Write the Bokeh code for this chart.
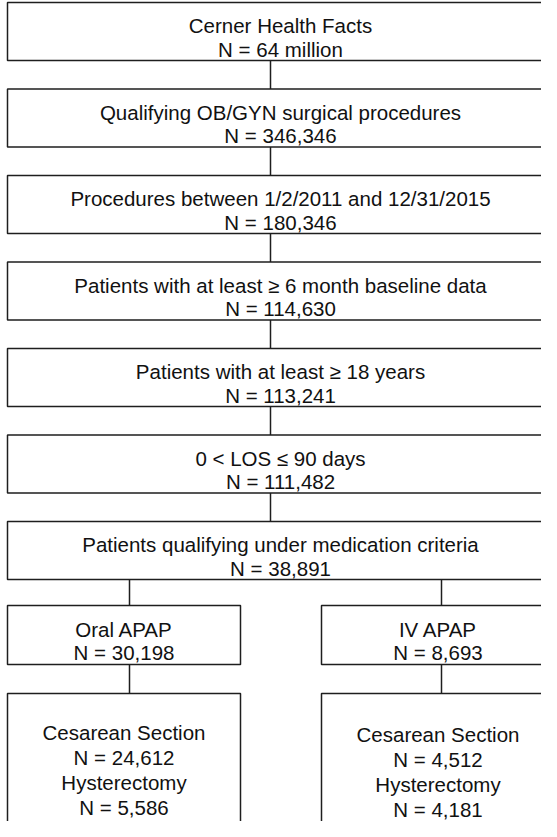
from bokeh.plotting import figure
from bokeh.models import Range1d, ColumnDataSource
from bokeh.core.properties import value
from bokeh.embed import file_html
from bokeh.resources import INLINE

# ---- data ----
steps = [
    "Cerner Health Facts",
    "Qualifying OB/GYN surgical procedures",
    "Procedures between 1/2/2011 and 12/31/2015",
    "Patients with at least \u2265 6 month baseline data",
    "Patients with at least \u2265 18 years",
    "0 < LOS \u2264 90 days",
    "Patients qualifying under medication criteria",
]
step_counts = ["64 million", "346,346", "180,346", "114,630", "113,241", "111,482", "38,891"]
arms = ["Oral APAP", "IV APAP"]
arm_counts = [30198, 8693]
procedures = ["Cesarean Section", "Hysterectomy"]
oral_proc_counts = [24612, 5586]
iv_proc_counts = [4512, 4181]
proc_counts = [oral_proc_counts, iv_proc_counts]

# ---- layout (page pixel coordinates) ----
MAIN_L, MAIN_R = 15, 561
TOP0, PITCH, BOX_H = 10, 86.5, 58
CONN_X = 278
ARM_L = [15, 329]
ARM_W = 233
ARM_TOP, ARM_H = 613, 59
ARM_CONN_X = [137, 449]
PROC_TOP, PROC_BOT = 701, 860

FONT = value("Liberation Sans")
FSIZE = "20.5px"
LINE_C = "#1e1e1e"
TEXT_C = "#111111"

p = figure(width=541, height=821, x_range=Range1d(8, 549), y_range=Range1d(829, 8),
           output_backend="svg", toolbar_location=None, min_border=0,
           x_axis_type=None, y_axis_type=None, outline_line_color=None)
p.grid.visible = False
p.background_fill_color = "white"
p.border_fill_color = "white"

boxes = dict(left=[], right=[], top=[], bottom=[])
segs = dict(x0=[], y0=[], x1=[], y1=[])
texts = dict(x=[], y=[], t=[])

n = len(steps)
for i, (s, c) in enumerate(zip(steps, step_counts)):
    t = TOP0 + i * PITCH
    boxes["left"].append(MAIN_L); boxes["right"].append(MAIN_R)
    boxes["top"].append(t); boxes["bottom"].append(t + BOX_H)
    cx = (MAIN_L + MAIN_R) / 2
    texts["x"] += [cx, cx]
    texts["y"] += [t + 23, t + 46.5]
    texts["t"] += [s, "N = " + c]
    if i < n - 1:
        segs["x0"].append(CONN_X); segs["x1"].append(CONN_X)
        segs["y0"].append(t + BOX_H); segs["y1"].append(t + PITCH)

last_bottom = TOP0 + (n - 1) * PITCH + BOX_H
for j, (a, ac) in enumerate(zip(arms, arm_counts)):
    l = ARM_L[j]; r = l + ARM_W; cx = (l + r) / 2
    boxes["left"] += [l, l]; boxes["right"] += [r, r]
    boxes["top"] += [ARM_TOP, PROC_TOP]
    boxes["bottom"] += [ARM_TOP + ARM_H, PROC_BOT]
    texts["x"] += [cx, cx]
    texts["y"] += [ARM_TOP + 23.5, ARM_TOP + 46.5]
    texts["t"] += [a, "N = {:,}".format(ac)]
    segs["x0"] += [ARM_CONN_X[j], ARM_CONN_X[j]]
    segs["x1"] += [ARM_CONN_X[j], ARM_CONN_X[j]]
    segs["y0"] += [last_bottom, ARM_TOP + ARM_H]
    segs["y1"] += [ARM_TOP, PROC_TOP]
    for k, (pr, pc) in enumerate(zip(procedures, proc_counts[j])):
        base = PROC_TOP + 39 + k * 50 + j * 1.5
        texts["x"] += [cx, cx]
        texts["y"] += [base, base + 25]
        texts["t"] += [pr, "N = {:,}".format(pc)]

p.quad(source=ColumnDataSource(boxes), left="left", right="right", top="top", bottom="bottom",
       fill_color=None, line_color=LINE_C, line_width=1.5)
p.segment(source=ColumnDataSource(segs), x0="x0", y0="y0", x1="x1", y1="y1",
          line_color=LINE_C, line_width=1.5)
p.text(source=ColumnDataSource(texts), x="x", y="y", text="t", text_align="center",
       text_baseline="alphabetic", text_font=FONT, text_font_size=FSIZE, text_color=TEXT_C)

open("out.html", "w").write(file_html(p, INLINE))
